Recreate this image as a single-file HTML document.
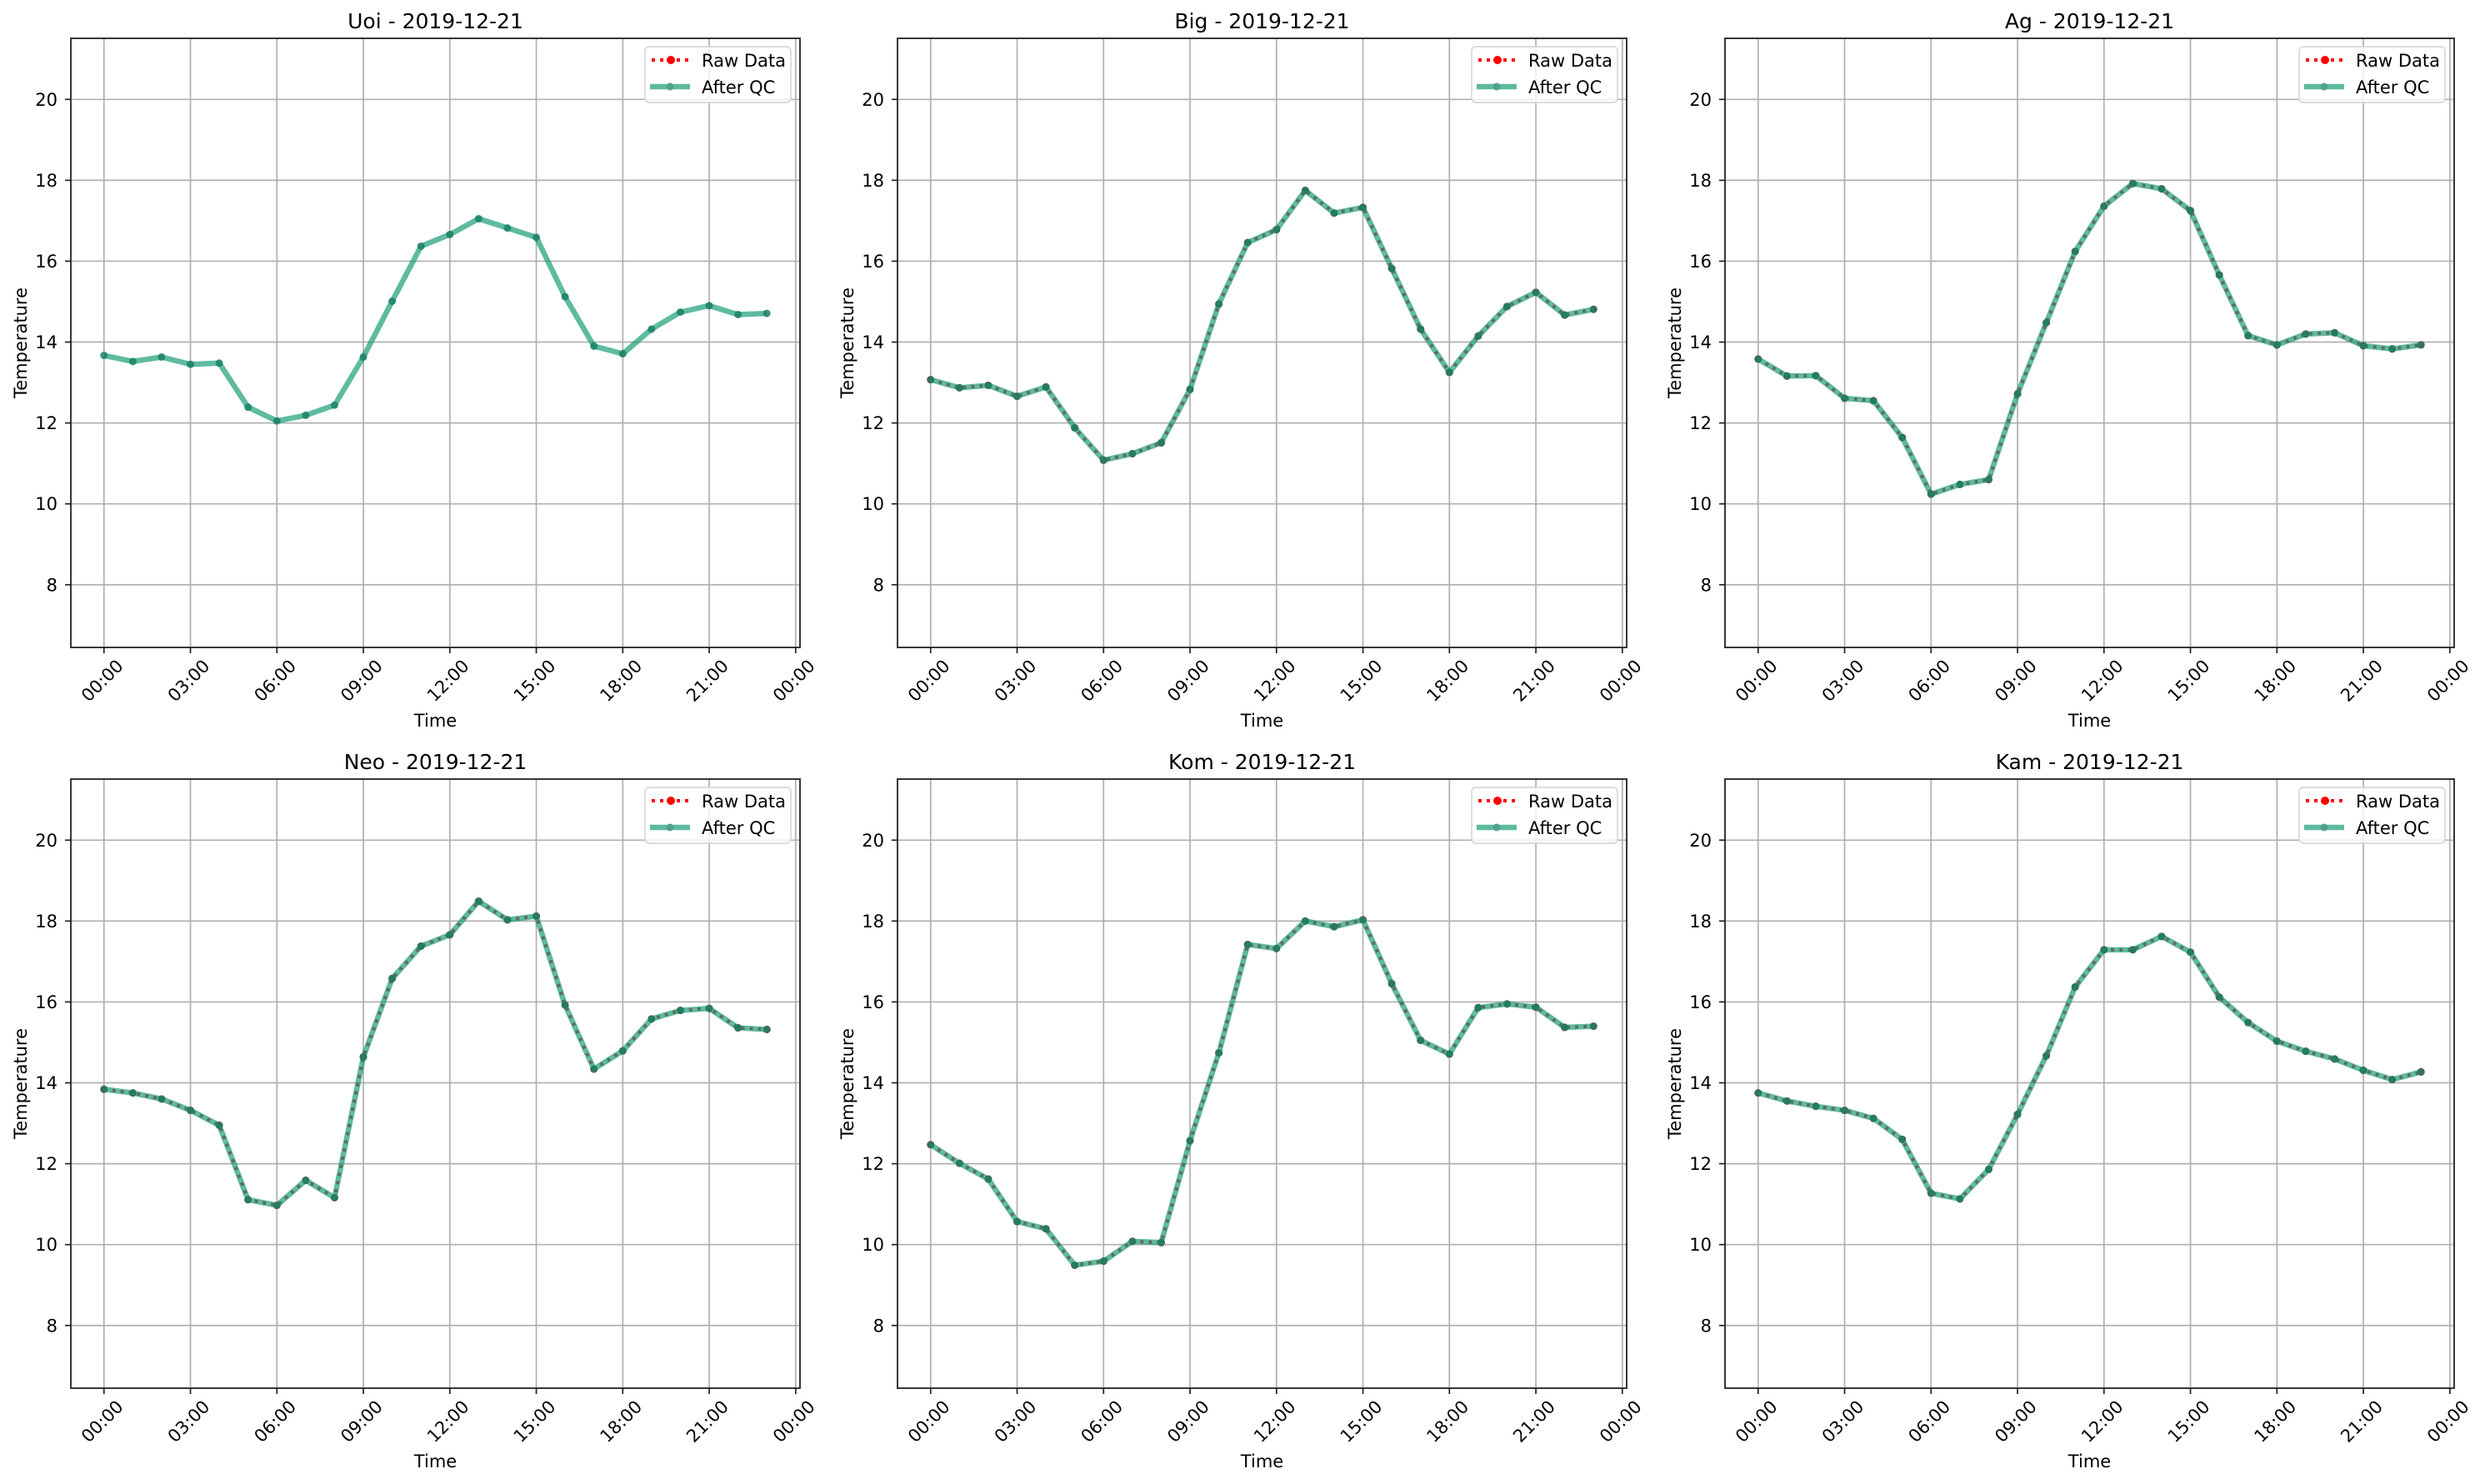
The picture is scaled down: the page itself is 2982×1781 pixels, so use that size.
<!DOCTYPE html>
<html><head><meta charset="utf-8">
<style>
html,body{margin:0;padding:0;background:#fff;}
svg{display:block;font-family:"DejaVu Sans","Liberation Sans",sans-serif;}
</style></head>
<body>
<svg id="fig" xmlns="http://www.w3.org/2000/svg" width="2982" height="1781" viewBox="0 0 2982 1781"></svg>
<script>
const stations = ["Uoi","Big","Ag","Neo","Kom","Kam"];
const dateLabel = "2019-12-21";
const hours = [0,1,2,3,4,5,6,7,8,9,10,11,12,13,14,15,16,17,18,19,20,21,22,23];
const xTickHours = [0,3,6,9,12,15,18,21,24];
const xTickLabels = ["00:00","03:00","06:00","09:00","12:00","15:00","18:00","21:00","00:00"];
const yTicks = [8,10,12,14,16,18,20];
const tempUoi = [13.67,13.52,13.63,13.45,13.48,12.39,12.05,12.19,12.44,13.63,15.01,16.37,16.66,17.05,16.82,16.59,15.12,13.90,13.71,14.32,14.74,14.90,14.68,14.71];
const tempBig = [13.07,12.87,12.93,12.66,12.89,11.88,11.08,11.24,11.51,12.83,14.94,16.46,16.78,17.75,17.19,17.33,15.82,14.32,13.25,14.15,14.88,15.23,14.67,14.81];
const tempAg  = [13.58,13.16,13.17,12.61,12.55,11.64,10.24,10.48,10.60,12.72,14.48,16.24,17.36,17.92,17.79,17.25,15.66,14.16,13.93,14.20,14.23,13.91,13.83,13.93];
const tempNeo = [13.84,13.75,13.60,13.32,12.95,11.11,10.97,11.59,11.16,14.64,16.58,17.38,17.66,18.49,18.03,18.12,15.92,14.34,14.79,15.58,15.79,15.84,15.36,15.32];
const tempKom = [12.47,12.01,11.62,10.57,10.39,9.49,9.59,10.08,10.05,12.57,14.74,17.42,17.32,18.00,17.86,18.03,16.45,15.05,14.71,15.86,15.95,15.87,15.37,15.40];
const tempKam = [13.75,13.55,13.42,13.32,13.12,12.60,11.27,11.13,11.86,13.22,14.67,16.37,17.29,17.29,17.62,17.23,16.12,15.49,15.03,14.78,14.59,14.31,14.08,14.27];
const qcSeries = [tempUoi,tempBig,tempAg,tempNeo,tempKom,tempKam];
const rawSeries = [tempUoi,tempBig,tempAg,tempNeo,tempKom,tempKam];
const showRaw = [false,true,true,true,true,true];
const xDomain = [-1.15, 24.15];
const yDomain = [6.45, 21.51];

const NS = "http://www.w3.org/2000/svg";
const fig = document.getElementById("fig");
function mk(tag, attrs, parent){
  const e = document.createElementNS(NS, tag);
  for (const k in attrs) e.setAttribute(k, attrs[k]);
  (parent||fig).appendChild(e);
  return e;
}
const colLefts = [85, 1077, 2070];
const rowTops = [46, 935];
const W = 875, H = 731;

stations.forEach((name, i) => {
  const L = colLefts[i % 3], T = rowTops[Math.floor(i / 3)];
  const xs = h => L + (h - xDomain[0]) / (xDomain[1] - xDomain[0]) * W;
  const ys = v => T + H - (v - yDomain[0]) / (yDomain[1] - yDomain[0]) * H;
  const g = mk("g", {});
  
  

  xTickHours.forEach(h => {
    const l = mk("line", {x1: xs(h), x2: xs(h), y1: T, y2: T + H, stroke: "#b0b0b0", "stroke-width": 1.7}, g);
    
    
  });
  yTicks.forEach(v => {
    const l = mk("line", {x1: L, x2: L + W, y1: ys(v), y2: ys(v), stroke: "#b0b0b0", "stroke-width": 1.7}, g);
    
    
  });

  if (showRaw[i]) {
    const raw = rawSeries[i];
    const pts = hours.map((h, k) => xs(h) + "," + ys(raw[k])).join(" ");
    const rl = mk("polyline", {points: pts, fill: "none", stroke: "#ff0000", "stroke-width": 4, "stroke-dasharray": "4 6"}, g);
    
    
    hours.forEach((h, k) => {
      const c = mk("circle", {cx: xs(h), cy: ys(raw[k]), r: 4.5, fill: "#ff0000"}, g);
      
      
    });
  }
  const qc = qcSeries[i];
  const qg = mk("g", {opacity: 0.7}, g);
  
  
  const qpts = hours.map((h, k) => xs(h) + "," + ys(qc[k])).join(" ");
  const ql = mk("polyline", {points: qpts, fill: "none", stroke: "#1b9e77", "stroke-width": 6.5, "stroke-linejoin": "round"}, qg);
  
  
  hours.forEach((h, k) => {
    const c = mk("circle", {cx: xs(h), cy: ys(qc[k]), r: 4.5, fill: "#1a8064", opacity: 0.85}, g);
    
    
  });

  const fr = mk("rect", {x: L, y: T, width: W, height: H, fill: "none", stroke: "#222", "stroke-width": 1.8}, g);
  
  

  xTickHours.forEach((h, k) => {
    const tl = mk("line", {x1: xs(h), x2: xs(h), y1: T + H, y2: T + H + 7, stroke: "#222", "stroke-width": 1.7}, g);
    
    
    const cx = xs(h) - 2, cy = T + H + 40;
    const t = mk("text", {x: cx, y: cy, "text-anchor": "middle", "dominant-baseline": "central", "font-size": 21, fill: "#000", transform: "rotate(-45 " + cx + " " + cy + ")"}, g);
    t.textContent = xTickLabels[k];
    
    
  });
  yTicks.forEach(v => {
    const tl = mk("line", {x1: L - 7, x2: L, y1: ys(v), y2: ys(v), stroke: "#222", "stroke-width": 1.7}, g);
    
    
    const t = mk("text", {x: L - 16, y: ys(v) + 7.5, "text-anchor": "end", "font-size": 21, fill: "#000"}, g);
    t.textContent = String(v);
    
    
  });
  const xl = mk("text", {x: L + W / 2, y: T + H + 95, "text-anchor": "middle", "font-size": 21, fill: "#000"}, g);
  xl.textContent = "Time";
  
  
  const yx = L - 53, yy = T + H / 2;
  const yl = mk("text", {x: yx, y: yy, "text-anchor": "middle", "font-size": 21, fill: "#000", transform: "rotate(-90 " + yx + " " + yy + ")"}, g);
  yl.textContent = "Temperature";
  
  
  const tt = mk("text", {x: L + W / 2, y: T - 12, "text-anchor": "middle", "font-size": 25, fill: "#000"}, g);
  tt.textContent = name + " - " + dateLabel;
  
  

  const lg = mk("g", {}, g);
  
  
  const bx = L + W - 186, by = T + 10;
  mk("rect", {x: bx, y: by, width: 175, height: 67, rx: 5, fill: "#fff", "fill-opacity": 0.8, stroke: "#d8d8d8", "stroke-width": 1.7}, lg);
  const e1 = mk("g", {}, lg);
  
  
  mk("line", {x1: bx + 8, x2: bx + 54, y1: by + 16, y2: by + 16, stroke: "#ff0000", "stroke-width": 4, "stroke-dasharray": "4 6"}, e1);
  mk("circle", {cx: bx + 31, cy: by + 16, r: 5, fill: "#ff0000"}, e1);
  const t1 = mk("text", {x: bx + 68, y: by + 24, "font-size": 21, fill: "#000"}, e1);
  t1.textContent = "Raw Data";
  const e2 = mk("g", {}, lg);
  
  
  const eg = mk("g", {opacity: 0.7}, e2);
  mk("line", {x1: bx + 6, x2: bx + 54, y1: by + 48, y2: by + 48, stroke: "#1b9e77", "stroke-width": 6.5}, eg);
  mk("circle", {cx: bx + 30, cy: by + 48, r: 4.5, fill: "#0b7a5a"}, eg);
  const t2 = mk("text", {x: bx + 68, y: by + 56, "font-size": 21, fill: "#000"}, e2);
  t2.textContent = "After QC";
});
</script>
</body></html>
